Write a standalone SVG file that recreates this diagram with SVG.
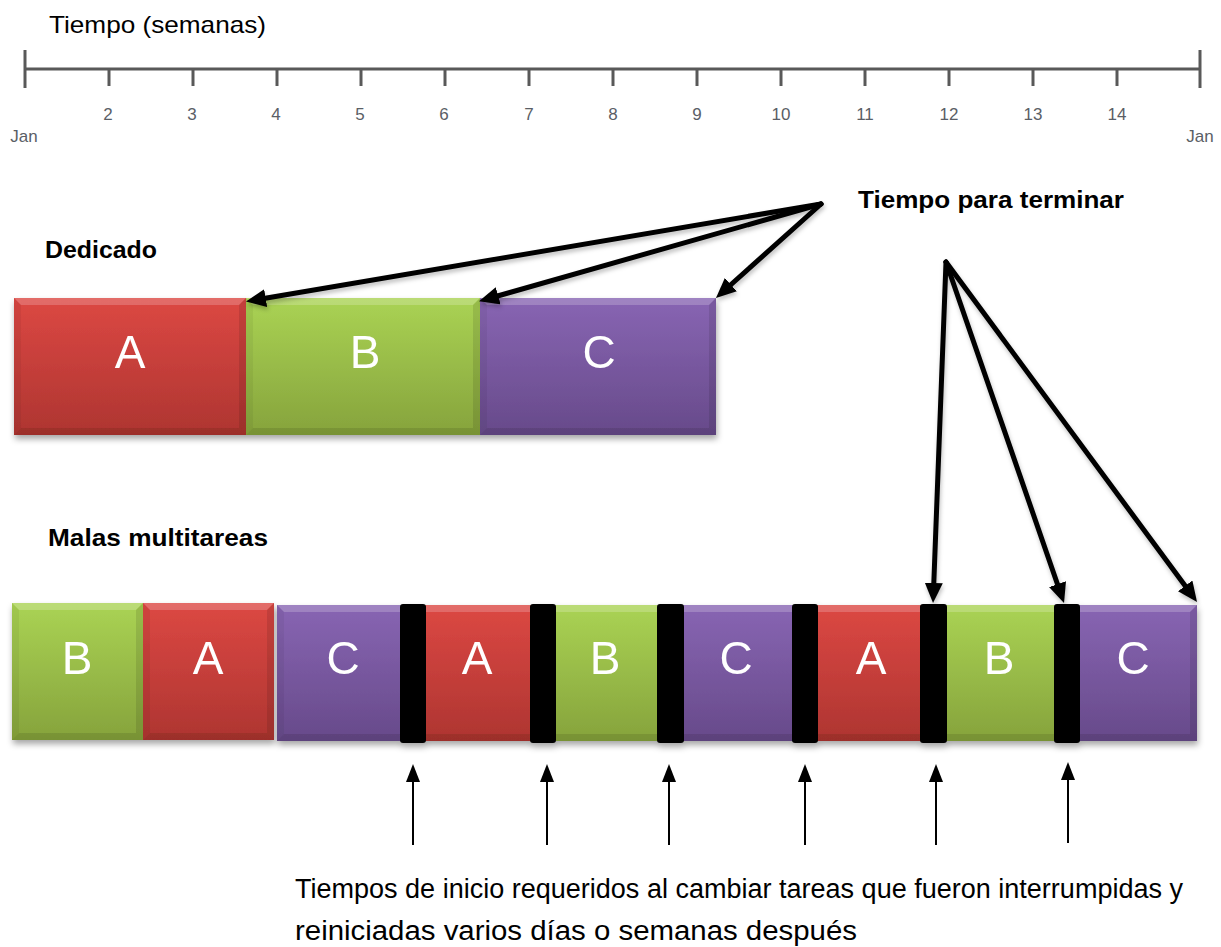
<svg xmlns="http://www.w3.org/2000/svg" width="1221" height="947" viewBox="0 0 1221 947">
<style>
.axis{stroke:#595959;stroke-width:3;fill:none}
.tick{stroke:#595959;stroke-width:3}
.num{font-family:"Liberation Sans",Arial,sans-serif;font-size:17px;fill:#5a5e66;text-anchor:middle}
.title{font-family:"Liberation Sans",Arial,sans-serif;font-size:24px;fill:#000}
.head{font-family:"Liberation Sans",Arial,sans-serif;font-size:24px;font-weight:bold;fill:#000}
.note{font-family:"Liberation Sans",Arial,sans-serif;font-size:27px;fill:#000}
.lbl{font-family:"Liberation Sans",Arial,sans-serif;font-size:46px;fill:#fff;text-anchor:middle}
.red{fill:url(#gRed)}
.grn{fill:url(#gGrn)}
.pur{fill:url(#gPur)}
.hl{fill:#fff;opacity:.2}
.dk{fill:#000;opacity:.1}
.sd{fill:#000;opacity:.05}
.bar{fill:#000}
.big{stroke:#000;stroke-width:5;fill:none;stroke-linecap:round}
.thin{stroke:#000;stroke-width:2;fill:none}
</style>
<defs>
<linearGradient id="gRed" x1="0" y1="0" x2="0" y2="1"><stop offset="0" stop-color="#DC4843"/><stop offset="1" stop-color="#AE3531"/></linearGradient>
<linearGradient id="gGrn" x1="0" y1="0" x2="0" y2="1"><stop offset="0" stop-color="#AAD354"/><stop offset="1" stop-color="#86A33C"/></linearGradient>
<linearGradient id="gPur" x1="0" y1="0" x2="0" y2="1"><stop offset="0" stop-color="#8865B3"/><stop offset="1" stop-color="#674A8A"/></linearGradient>
<filter id="shadow" x="-5%" y="-10%" width="110%" height="130%"><feDropShadow dx="1" dy="4" stdDeviation="3" flood-color="#000" flood-opacity="0.35"/></filter>
<filter id="ashadow" x="-10%" y="-10%" width="120%" height="130%"><feDropShadow dx="1" dy="3" stdDeviation="2" flood-color="#000" flood-opacity="0.25"/></filter>
<marker id="ah" markerUnits="userSpaceOnUse" markerWidth="20" markerHeight="18" refX="8" refY="9" orient="auto"><path d="M0,0 L20,9 L0,18 z" fill="#000"/></marker>
<marker id="ahs" markerUnits="userSpaceOnUse" markerWidth="18" markerHeight="14" refX="8" refY="7" orient="auto"><path d="M0,0 L18,7 L0,14 z" fill="#000"/></marker>
</defs>
<rect width="1221" height="947" fill="#fff"/>

<g id="timeline">
<text class="title" x="49" y="33" textLength="217" lengthAdjust="spacingAndGlyphs">Tiempo (semanas)</text>
<line class="axis" x1="25" y1="69" x2="1200" y2="69"/>
<line class="tick" x1="25" y1="50" x2="25" y2="88"/>
<line class="tick" x1="1200" y1="50" x2="1200" y2="88"/>
<line class="tick" x1="109" y1="69" x2="109" y2="86"/>
<line class="tick" x1="193" y1="69" x2="193" y2="86"/>
<line class="tick" x1="277" y1="69" x2="277" y2="86"/>
<line class="tick" x1="361" y1="69" x2="361" y2="86"/>
<line class="tick" x1="445" y1="69" x2="445" y2="86"/>
<line class="tick" x1="529" y1="69" x2="529" y2="86"/>
<line class="tick" x1="613" y1="69" x2="613" y2="86"/>
<line class="tick" x1="697" y1="69" x2="697" y2="86"/>
<line class="tick" x1="781" y1="69" x2="781" y2="86"/>
<line class="tick" x1="865" y1="69" x2="865" y2="86"/>
<line class="tick" x1="949" y1="69" x2="949" y2="86"/>
<line class="tick" x1="1033" y1="69" x2="1033" y2="86"/>
<line class="tick" x1="1117" y1="69" x2="1117" y2="86"/>
<text class="num" x="108" y="120">2</text>
<text class="num" x="192" y="120">3</text>
<text class="num" x="276" y="120">4</text>
<text class="num" x="360" y="120">5</text>
<text class="num" x="444" y="120">6</text>
<text class="num" x="529" y="120">7</text>
<text class="num" x="613" y="120">8</text>
<text class="num" x="697" y="120">9</text>
<text class="num" x="781" y="120">10</text>
<text class="num" x="865" y="120">11</text>
<text class="num" x="949" y="120">12</text>
<text class="num" x="1033" y="120">13</text>
<text class="num" x="1117" y="120">14</text>
<text class="num" x="24" y="142">Jan</text>
<text class="num" x="1200" y="142">Jan</text>
</g>

<g id="labels">
<text class="head" x="45" y="258" textLength="112" lengthAdjust="spacingAndGlyphs">Dedicado</text>
<text class="head" x="858" y="208" textLength="266" lengthAdjust="spacingAndGlyphs">Tiempo para terminar</text>
<text class="head" x="48" y="546" textLength="220" lengthAdjust="spacingAndGlyphs">Malas multitareas</text>
</g>

<g id="dedicated" filter="url(#shadow)">
<g id="d-A" transform="translate(14,298)">
<rect class="red" width="232" height="137"/>
<path class="hl" d="M0,0 h232 l-7,7 h-218 z"/><path class="dk" d="M0,137 h232 l-7,-7 h-218 z"/><path class="sd" d="M0,0 l7,7 v123 l-7,7 z"/><path class="dk" d="M232,0 l-7,7 v123 l7,7 z"/>
<text class="lbl" x="116" y="70">A</text>
</g>
<g id="d-B" transform="translate(246,298)">
<rect class="grn" width="234" height="137"/>
<path class="hl" d="M0,0 h234 l-7,7 h-220 z"/><path class="dk" d="M0,137 h234 l-7,-7 h-220 z"/><path class="sd" d="M0,0 l7,7 v123 l-7,7 z"/><path class="dk" d="M234,0 l-7,7 v123 l7,7 z"/>
<text class="lbl" x="119" y="70">B</text>
</g>
<g id="d-C" transform="translate(480,298)">
<rect class="pur" width="236" height="137"/>
<path class="hl" d="M0,0 h236 l-7,7 h-222 z"/><path class="dk" d="M0,137 h236 l-7,-7 h-222 z"/><path class="sd" d="M0,0 l7,7 v123 l-7,7 z"/><path class="dk" d="M236,0 l-7,7 v123 l7,7 z"/>
<text class="lbl" x="119" y="70">C</text>
</g>
</g>

<g id="multitask" filter="url(#shadow)">
<g id="m-B1" transform="translate(12,603)">
<rect class="grn" width="131" height="137"/>
<path class="hl" d="M0,0 h131 l-7,7 h-117 z"/><path class="dk" d="M0,137 h131 l-7,-7 h-117 z"/><path class="sd" d="M0,0 l7,7 v123 l-7,7 z"/><path class="dk" d="M131,0 l-7,7 v123 l7,7 z"/>
<text class="lbl" x="65" y="71">B</text>
</g>
<g id="m-A1" transform="translate(143,603)">
<rect class="red" width="131" height="137"/>
<path class="hl" d="M0,0 h131 l-7,7 h-117 z"/><path class="dk" d="M0,137 h131 l-7,-7 h-117 z"/><path class="sd" d="M0,0 l7,7 v123 l-7,7 z"/><path class="dk" d="M131,0 l-7,7 v123 l7,7 z"/>
<text class="lbl" x="65" y="71">A</text>
</g>
<g id="m-C1" transform="translate(277,605)">
<rect class="pur" width="136" height="136"/>
<path class="hl" d="M0,0 h136 l0,7 h-129 z"/><path class="dk" d="M0,136 h136 l0,-7 h-129 z"/><path class="sd" d="M0,0 l7,7 v122 l-7,7 z"/>
<text class="lbl" x="66" y="69">C</text>
</g>
<g id="m-A2" transform="translate(413,605)">
<rect class="red" width="130" height="136"/>
<path class="hl" d="M0,0 h130 v7 h-130 z"/><path class="dk" d="M0,136 h130 v-7 h-130 z"/>
<text class="lbl" x="64" y="69">A</text>
</g>
<g id="m-B2" transform="translate(543,605)">
<rect class="grn" width="127" height="136"/>
<path class="hl" d="M0,0 h127 v7 h-127 z"/><path class="dk" d="M0,136 h127 v-7 h-127 z"/>
<text class="lbl" x="62" y="69">B</text>
</g>
<g id="m-C2" transform="translate(670,605)">
<rect class="pur" width="135" height="136"/>
<path class="hl" d="M0,0 h135 v7 h-135 z"/><path class="dk" d="M0,136 h135 v-7 h-135 z"/>
<text class="lbl" x="66" y="69">C</text>
</g>
<g id="m-A3" transform="translate(805,605)">
<rect class="red" width="128" height="136"/>
<path class="hl" d="M0,0 h128 v7 h-128 z"/><path class="dk" d="M0,136 h128 v-7 h-128 z"/>
<text class="lbl" x="66" y="69">A</text>
</g>
<g id="m-B3" transform="translate(933,605)">
<rect class="grn" width="134" height="136"/>
<path class="hl" d="M0,0 h134 v7 h-134 z"/><path class="dk" d="M0,136 h134 v-7 h-134 z"/>
<text class="lbl" x="66" y="69">B</text>
</g>
<g id="m-C3" transform="translate(1067,605)">
<rect class="pur" width="130" height="136"/>
<path class="hl" d="M0,0 h130 l-7,7 h-123 z"/><path class="dk" d="M0,136 h130 l-7,-7 h-123 z"/><path class="dk" d="M130,0 l-7,7 v122 l7,7 z"/>
<text class="lbl" x="66" y="69">C</text>
</g>
<g id="switch-bars">
<rect class="bar" x="400" y="604" width="26" height="139" rx="3"/>
<rect class="bar" x="530" y="604" width="26" height="139" rx="3"/>
<rect class="bar" x="657" y="604" width="27" height="139" rx="3"/>
<rect class="bar" x="792" y="604" width="26" height="139" rx="3"/>
<rect class="bar" x="920" y="604" width="27" height="139" rx="3"/>
<rect class="bar" x="1054" y="604" width="26" height="139" rx="3"/>
</g>
</g>

<g id="connectors">
<g filter="url(#ashadow)">
<line class="big" x1="821" y1="204" x2="257.8" y2="299.5" marker-end="url(#ah)"/>
<line class="big" x1="821" y1="204" x2="490.5" y2="298" marker-end="url(#ah)"/>
<line class="big" x1="821" y1="204" x2="724.9" y2="290" marker-end="url(#ah)"/>
<line class="big" x1="946" y1="262" x2="933.5" y2="591" marker-end="url(#ah)"/>
<line class="big" x1="946" y1="262" x2="1060.1" y2="591.7" marker-end="url(#ah)"/>
<line class="big" x1="946" y1="262" x2="1189.9" y2="592.3" marker-end="url(#ah)"/>
</g>
<line class="thin" x1="413" y1="845" x2="413" y2="774" marker-end="url(#ahs)"/>
<line class="thin" x1="547" y1="845" x2="547" y2="774" marker-end="url(#ahs)"/>
<line class="thin" x1="669" y1="845" x2="669" y2="774" marker-end="url(#ahs)"/>
<line class="thin" x1="805" y1="845" x2="805" y2="774" marker-end="url(#ahs)"/>
<line class="thin" x1="936" y1="845" x2="936" y2="774" marker-end="url(#ahs)"/>
<line class="thin" x1="1068" y1="843" x2="1068" y2="772" marker-end="url(#ahs)"/>
</g>

<g id="note">
<text class="note" x="295" y="898" textLength="888" lengthAdjust="spacingAndGlyphs">Tiempos de inicio requeridos al cambiar tareas que fueron interrumpidas y</text>
<text class="note" x="295" y="940" textLength="562" lengthAdjust="spacingAndGlyphs">reiniciadas varios días o semanas después</text>
</g>
</svg>
